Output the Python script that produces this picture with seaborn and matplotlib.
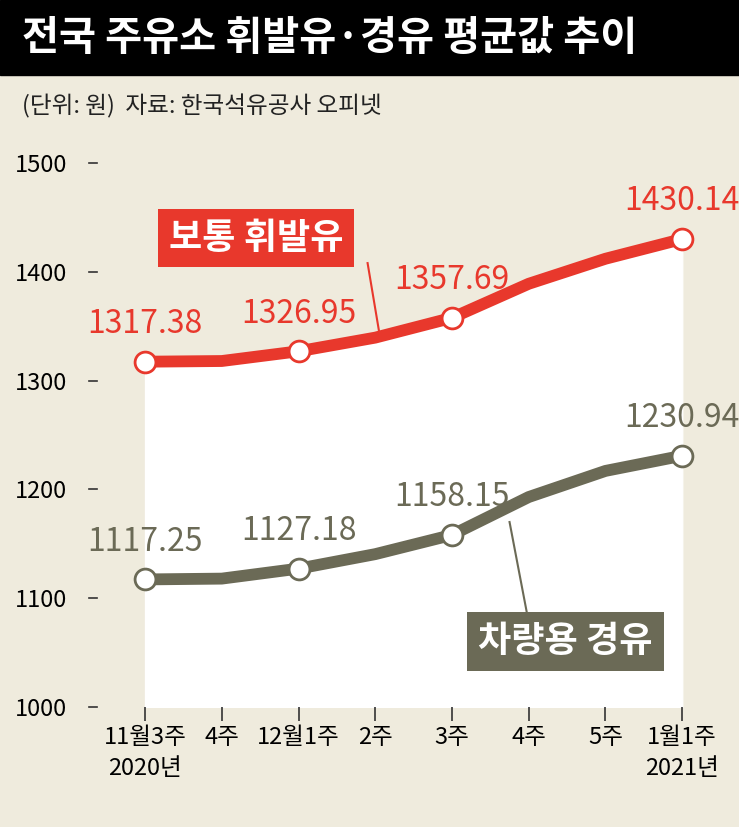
import matplotlib
matplotlib.use("Agg")
import matplotlib.pyplot as plt
import seaborn as sns
import pandas as pd
import numpy as np

plt.rcParams["font.family"] = "Noto Sans CJK KR"

weeks = ["11월3주\n2020년", "4주", "12월1주", "2주", "3주", "4주", "5주", "1월1주\n2021년"]
gasoline = [1317.38, 1318.0, 1326.95, 1339.5, 1357.69, 1389.0, 1412.0, 1430.14]
diesel = [1117.25, 1118.0, 1127.18, 1140.5, 1158.15, 1193.0, 1217.0, 1230.94]
labeled = [0, 2, 4, 7]
yticks = [1000, 1100, 1200, 1300, 1400, 1500]

RED = "#e8382c"
GRAY = "#6b6a56"
BG = "#efebdd"

fig = plt.figure(figsize=(7.39, 8.27), dpi=100, facecolor=BG)
ax = fig.add_axes([100/739, 1-707/827, 639/739, (707-150)/827])
ax.set_facecolor(BG)
x = np.arange(len(weeks))
df = pd.DataFrame({"x": np.concatenate([x, x]),
                   "v": gasoline + diesel,
                   "s": ["g"]*len(x) + ["d"]*len(x)})
ax.fill_between(x, gasoline, 1000, color="white", zorder=0)
sns.lineplot(data=df, x="x", y="v", hue="s", palette={"g": RED, "d": GRAY},
             linewidth=8.5, legend=False, ax=ax, zorder=2)
for vals, c in [(gasoline, RED), (diesel, GRAY)]:
    ax.plot([x[i] for i in labeled], [vals[i] for i in labeled], "o", ms=15,
            mfc="white", mec=c, mew=2, zorder=3)
    for i in labeled:
        ax.text(x[i], vals[i] + 20, f"{vals[i]:.2f}", color=c, fontsize=23,
                ha="center", va="bottom", zorder=4)

ax.set_xlim(-0.587, 7.74)
ax.set_ylim(1000, 1000 + (707-150)/1.088)
ax.set_yticks(yticks)
ax.set_yticklabels([str(v) for v in yticks], fontsize=17)
ax.set_xticks(x)
ax.set_xticklabels(weeks, fontsize=17, linespacing=1.4)
ax.tick_params(axis="y", left=False, right=False, pad=20)
for v in yticks:
    ax.plot([-0.73, -0.63], [v, v], color="#333", lw=1.2, clip_on=False)
ax.tick_params(axis="x", length=10, width=1.2, color="#333", pad=4)
for s in ax.spines.values():
    s.set_visible(False)
ax.set_xlabel(""); ax.set_ylabel("")

# series label boxes
ax.plot([2.9, 3.05], [1408, 1345], color=RED, lw=1.5, zorder=1)
ax.text(1.45, 1431, "보통 휘발유", color="white", fontsize=26, fontweight="bold",
        ha="center", va="center", zorder=5,
        bbox=dict(boxstyle="square,pad=0.3", fc=RED, ec="none"))
ax.plot([4.75, 4.98], [1170, 1085], color=GRAY, lw=1.5, zorder=1)
ax.text(5.48, 1060, "차량용 경유", color="white", fontsize=26, fontweight="bold",
        ha="center", va="center", zorder=5,
        bbox=dict(boxstyle="square,pad=0.3", fc=GRAY, ec="none"))

# title
fig.patches.append(plt.Rectangle((0, 1-75/827), 1, 75/827, transform=fig.transFigure,
                                 color="black", zorder=0))
fig.text(0.03, 1-38/827, "전국 주유소 휘발유·경유 평균값 추이", color="white",
         fontsize=29, fontweight="bold", va="center", ha="left")
fig.text(0.03, 1-106/827, "(단위: 원)  자료: 한국석유공사 오피넷", color="#222",
         fontsize=17, va="center", ha="left")

fig.savefig("out.png", dpi=100, facecolor=BG)
